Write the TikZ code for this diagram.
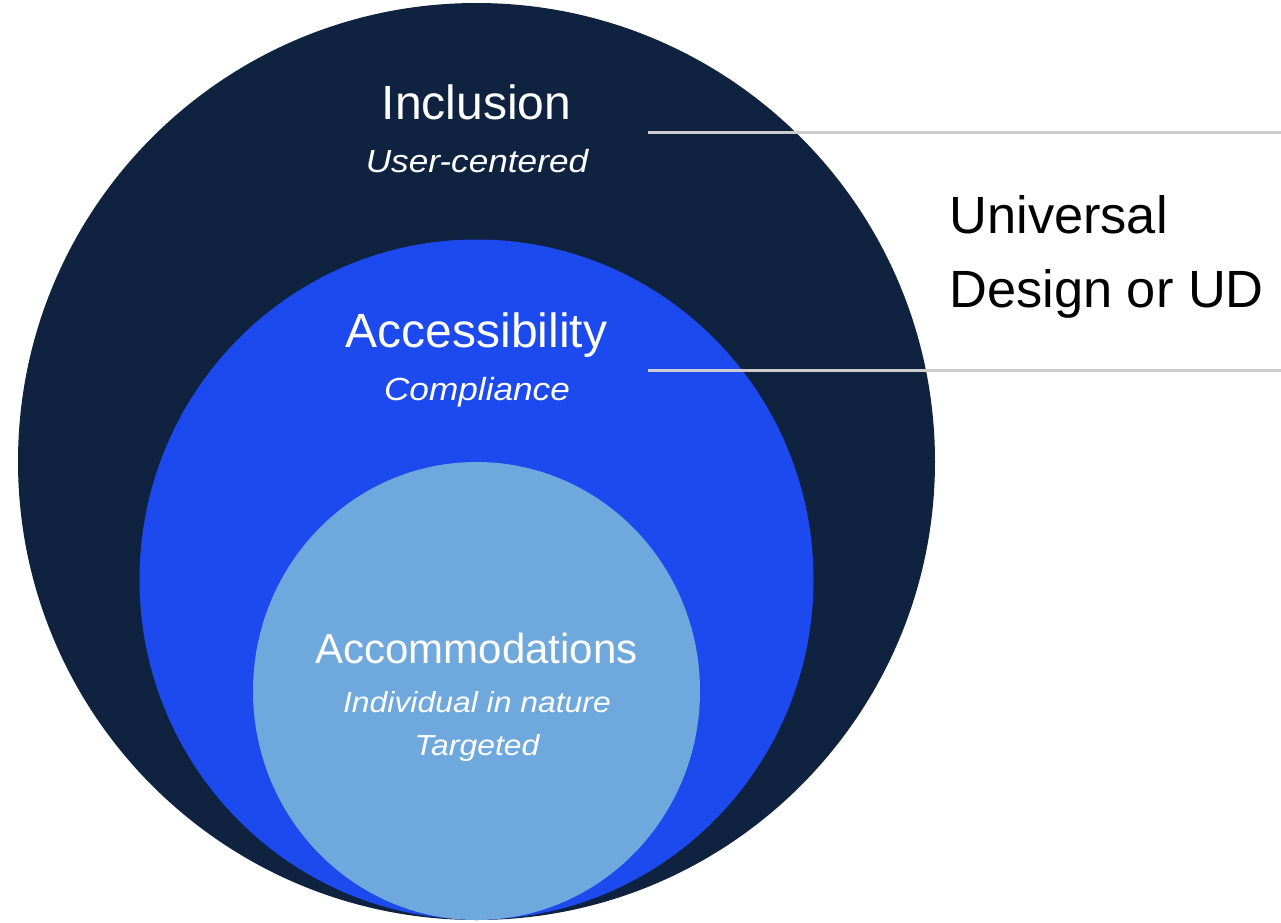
\documentclass[tikz,border=0pt]{standalone}
\usepackage{fontspec}
\setmainfont{Liberation Sans}
\newfontfamily\wideit{Liberation Sans}[FakeStretch=1.1]
\definecolor{navy}{HTML}{0F2341}
\definecolor{royal}{HTML}{1D4AEE}
\definecolor{sky}{HTML}{6FA8DC}
\definecolor{rule}{HTML}{CCCCCC}

\begin{document}
\begin{tikzpicture}[x=0.5pt, y=-0.5pt,
		title/.style={text=white, anchor=base, inner sep=0pt, font=\fontsize{24pt}{28pt}\selectfont},
		note/.style={text=white, anchor=base, inner sep=0pt, font=\wideit\itshape\fontsize{16pt}{19pt}\selectfont},
		side/.style={anchor=base west, inner sep=0pt, font=\fontsize{26.2pt}{30pt}\selectfont},
		bar/.style={draw=rule, line width=1.5pt},
	]
		\useasboundingbox (0,0) rectangle (1281,922);

		% the three rings
		\fill[navy] (476.5,461.5) ellipse [x radius=458.5, y radius=458.5];
		\fill[royal] (476.5,579.5) ellipse [x radius=337, y radius=340];
		\fill[sky] (476.5,691) ellipse [x radius=223.5, y radius=229];

		\node (incl) [title] at (476.5,119) {Inclusion};
		\node (user) [note] at (477,172) {User-centered};
		\node (acc) [title] at (476.5,347) {Accessibility};
		\node (comp) [note] at (477,400) {Compliance};
		\node (accom) [title, font=\fontsize{21pt}{25pt}\selectfont] at (476.5,663) {Accommodations};
		\node (indiv) [note, font=\wideit\itshape\fontsize{14.5pt}{17pt}\selectfont] at (477,712) {Individual in nature};
		\node (targ) [note, font=\wideit\itshape\fontsize{14.5pt}{17pt}\selectfont] at (477,755) {Targeted};

		\node (univ) [side] at (949,233) {Universal};
		\node (design) [side] at (949,307) {Design or UD};

		% brackets round the label
		\coordinate (topa) at (648,132);
		\coordinate (topb) at (1281,132);
		\coordinate (bota) at (648,370);
		\coordinate (botb) at (1281,370);
		\draw[bar] (topa) -- (topb);
		\draw[bar] (bota) -- (botb);
	\end{tikzpicture}
\end{document}
